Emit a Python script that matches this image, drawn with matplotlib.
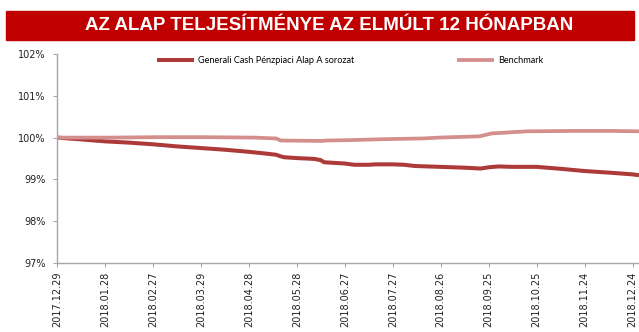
import matplotlib
matplotlib.use('Agg')
import matplotlib.pyplot as plt
import matplotlib.dates as mdates
from matplotlib.ticker import FuncFormatter
import pandas as pd

# fund and benchmark performance, indexed to 100% at the start date
fund_dates = ['2017-12-29', '2018-01-12', '2018-01-28', '2018-02-12', '2018-02-27',
              '2018-03-14', '2018-03-29', '2018-04-13', '2018-04-28', '2018-05-08',
              '2018-05-15', '2018-05-18', '2018-05-20', '2018-05-28', '2018-06-08',
              '2018-06-12', '2018-06-14', '2018-06-27', '2018-07-03', '2018-07-12',
              '2018-07-16', '2018-07-27', '2018-08-03', '2018-08-10', '2018-08-26',
              '2018-09-10', '2018-09-20', '2018-09-25', '2018-10-01', '2018-10-10',
              '2018-10-25', '2018-11-10', '2018-11-24', '2018-12-10', '2018-12-24',
              '2018-12-28']
fund_values = [100.00, 99.96, 99.91, 99.88, 99.84,
               99.79, 99.75, 99.71, 99.66, 99.62,
               99.59, 99.55, 99.53, 99.51, 99.49,
               99.46, 99.41, 99.38, 99.35, 99.35,
               99.36, 99.36, 99.35, 99.32, 99.30,
               99.28, 99.26, 99.29, 99.31, 99.30,
               99.30, 99.25, 99.20, 99.16, 99.12,
               99.10]

bench_dates = ['2017-12-29', '2018-02-01', '2018-03-01', '2018-04-01', '2018-05-01',
               '2018-05-15', '2018-05-18', '2018-06-13', '2018-06-15', '2018-07-01',
               '2018-07-19', '2018-08-15', '2018-08-25', '2018-09-19', '2018-09-27',
               '2018-10-10', '2018-10-19', '2018-11-20', '2018-12-10', '2018-12-28']
bench_values = [100.00, 100.00, 100.01, 100.01, 100.00,
                99.98, 99.93, 99.92, 99.93, 99.94,
                99.96, 99.98, 100.00, 100.03, 100.10,
                100.13, 100.15, 100.16, 100.16, 100.15]

fund_label = 'Generali Cash Pénzpiaci Alap A sorozat'
bench_label = 'Benchmark'
title = 'AZ ALAP TELJESÍTMÉNYE AZ ELMÚLT 12 HÓNAPBAN'

fund_color = '#AC3A39'
bench_color = '#D48E8C'
axis_color = '#A6A6A6'

fig = plt.figure(figsize=(6.39, 3.32), dpi=100)

# red title banner
fig.patches.append(plt.Rectangle((6 / 639, 1 - 39.5 / 332), 628 / 639, 28 / 332,
                                 transform=fig.transFigure, color='#C00000', zorder=0))
fig.text(0.515, 1 - 25.5 / 332, title, color='white', fontsize=13.5, fontweight='bold',
         family=['Liberation Sans Narrow', 'Liberation Sans'], ha='center', va='center')

ax = fig.add_axes([57 / 639, 69 / 332, 582 / 639, 209 / 332])
ax.plot(pd.to_datetime(fund_dates), fund_values, color=fund_color, lw=2.9,
        label=fund_label, solid_capstyle='butt')
ax.plot(pd.to_datetime(bench_dates), bench_values, color=bench_color, lw=2.7,
        label=bench_label, solid_capstyle='butt')

ax.set_ylim(97, 102)
ax.set_yticks([97, 98, 99, 100, 101, 102])
ax.yaxis.set_major_formatter(FuncFormatter(lambda v, p: '%d%%' % round(v)))

start = pd.Timestamp('2017-12-29')
ax.set_xlim(start, pd.Timestamp('2018-12-28'))
xt = [start + pd.Timedelta(days=30 * i) for i in range(13)]
ax.set_xticks(xt)
ax.xaxis.set_major_formatter(mdates.DateFormatter('%Y.%m.%d'))
plt.setp(ax.get_xticklabels(), rotation=90)

for s in ['top', 'right']:
    ax.spines[s].set_visible(False)
for s in ['left', 'bottom']:
    ax.spines[s].set_color(axis_color)
    ax.spines[s].set_linewidth(1.0)
ax.tick_params(colors=axis_color, labelcolor='#222222', labelsize=7, length=3, width=0.8)
ax.tick_params(axis='y', pad=5)
ax.tick_params(axis='x', pad=3)

leg = ax.legend(loc='upper left', bbox_to_anchor=(94 / 582, 1 + 4 / 209), ncol=2, frameon=False,
                handlelength=4.0, columnspacing=11.2, handletextpad=0.45,
                borderaxespad=0.3, prop={'family': ['Lato', 'DejaVu Sans'], 'size': 6.6})

fig.savefig('out.png', dpi=100)
